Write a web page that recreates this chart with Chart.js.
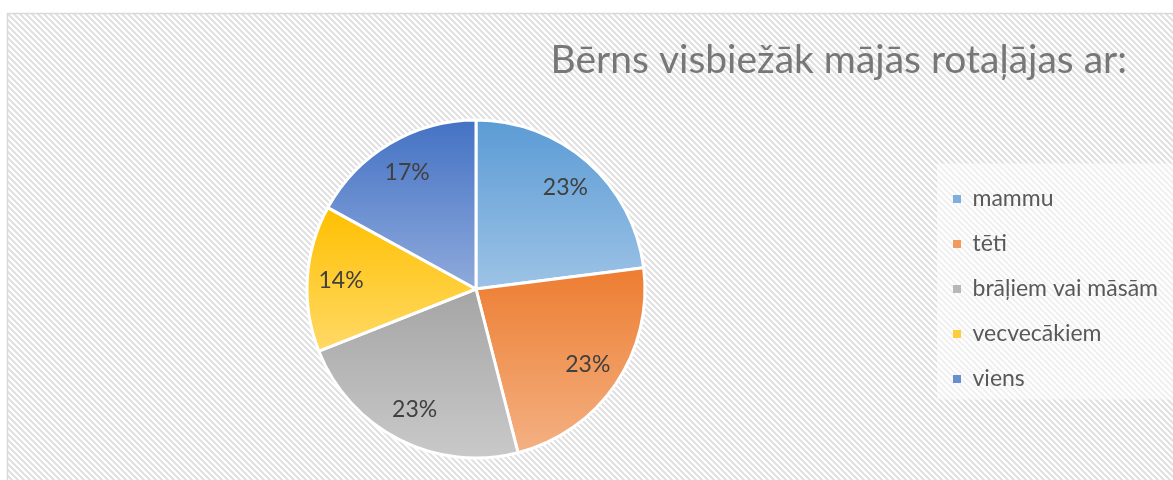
<!DOCTYPE html>
<html><head><meta charset="utf-8">
<script src="https://cdn.jsdelivr.net/npm/chart.js@4.4.1/dist/chart.umd.min.js"></script>
<style>html,body{margin:0;padding:0;background:#fff;} #wrap{width:1173px;height:480px;position:relative;}</style>
</head><body><div id="wrap"><canvas id="c" width="1173" height="480"></canvas></div>
<script>
const titleText = 'Bērns visbiežāk mājās rotaļājas ar:';
const categories = ['mammu', 'tēti', 'brāļiem vai māsām', 'vecvecākiem', 'viens'];
const values = [23, 23, 23, 14, 17];
const topColors = ['#5B9BD5', '#ED7D31', '#A5A5A5', '#FFC000', '#4472C4'];
const bottomColors = ['#9DC3E6', '#F4B183', '#C9C9C9', '#FFD966', '#8FAADC'];
const midColors = ['#7CAFDD', '#F19A5E', '#B7B7B7', '#FFCD3A', '#6A8FD0'];

function makePattern(ctx) {
  const c = document.createElement('canvas');
  c.width = 6; c.height = 6;
  const p = c.getContext('2d');
  p.fillStyle = '#ffffff'; p.fillRect(0, 0, 6, 6);
  p.strokeStyle = '#e0e0e0'; p.lineWidth = 2;
  p.beginPath();
  p.moveTo(-3, -3); p.lineTo(9, 9);
  p.moveTo(-9, -3); p.lineTo(3, 9);
  p.moveTo(3, -3); p.lineTo(15, 9);
  p.stroke();
  return ctx.createPattern(c, 'repeat');
}

const backgroundPlugin = {
  id: 'bgPattern',
  beforeDraw(chart) {
    const ctx = chart.ctx;
    ctx.save();
    ctx.fillStyle = '#ffffff';
    ctx.fillRect(0, 0, chart.width, chart.height);
    ctx.fillStyle = makePattern(ctx);
    ctx.fillRect(7, 13, chart.width - 7, chart.height - 13);
    ctx.strokeStyle = '#d9d9d9'; ctx.lineWidth = 1.5;
    ctx.beginPath();
    ctx.moveTo(7.5, chart.height); ctx.lineTo(7.5, 13.5); ctx.lineTo(chart.width, 13.5);
    ctx.stroke();
    const hb = chart.legend && chart.legend.legendHitBoxes;
    if (hb && hb.length) {
      const top = Math.min(...hb.map(b => b.top)) - 24;
      const bottom = Math.max(...hb.map(b => b.top + b.height)) + 9;
      const left = Math.min(...hb.map(b => b.left)) - 16;
      ctx.fillStyle = 'rgba(255,255,255,0.5)';
      ctx.fillRect(left, top, chart.width - left, bottom - top);
    }
    ctx.fillStyle = '#777777';
    ctx.font = '39px Lato';
    ctx.textAlign = 'right';
    ctx.textBaseline = 'alphabetic';
    ctx.fillText(titleText, 1127, 73);
    ctx.restore();
  }
};

const gradientPlugin = {
  id: 'sliceGradient',
  beforeDatasetsDraw(chart) {
    const ctx = chart.ctx;
    const meta = chart.getDatasetMeta(0);
    meta.data.forEach((arc, i) => {
      const p = arc.getProps(['x', 'y', 'startAngle', 'endAngle', 'outerRadius'], true);
      const ys = [p.y, p.y + p.outerRadius * Math.sin(p.startAngle), p.y + p.outerRadius * Math.sin(p.endAngle)];
      for (let k = -4; k <= 8; k++) {
        const a = k * Math.PI / 2;
        if (a > p.startAngle && a < p.endAngle) ys.push(p.y + p.outerRadius * Math.sin(a));
      }
      const y0 = Math.min(...ys), y1 = Math.max(...ys);
      const g = ctx.createLinearGradient(0, y0, 0, y1);
      g.addColorStop(0, topColors[i]);
      g.addColorStop(1, bottomColors[i]);
      arc.options.backgroundColor = g;
    });
  }
};

const labelPlugin = {
  id: 'sliceLabels',
  afterDatasetsDraw(chart) {
    const ctx = chart.ctx;
    const meta = chart.getDatasetMeta(0);
    ctx.save();
    ctx.fillStyle = '#404040';
    ctx.font = '23px Lato';
    ctx.textAlign = 'center';
    ctx.textBaseline = 'middle';
    meta.data.forEach((arc, i) => {
      const p = arc.getProps(['x', 'y', 'startAngle', 'endAngle', 'outerRadius'], true);
      const mid = (p.startAngle + p.endAngle) / 2;
      const r = p.outerRadius * 0.8;
      ctx.fillText(values[i] + '%', p.x + r * Math.cos(mid), p.y + r * Math.sin(mid));
    });
    ctx.restore();
  }
};

new Chart(document.getElementById('c'), {
  type: 'pie',
  data: {
    labels: categories,
    datasets: [{
      data: values,
      backgroundColor: midColors,
      borderColor: '#ffffff',
      borderWidth: 3
    }]
  },
  options: {
    responsive: false,
    animation: false,
    radius: 169,
    layout: { padding: { left: 21, right: 5, top: 108, bottom: 10 } },
    plugins: {
      title: { display: false },
      tooltip: { enabled: false },
      legend: {
        position: 'right',
        align: 'center',
        labels: {
          color: '#595959',
          font: { family: 'Lato', size: 23 },
          boxWidth: 8,
          boxHeight: 8,
          padding: 22,
          generateLabels(chart) {
            return chart.data.labels.map((l, i) => ({
              text: l, fillStyle: midColors[i], strokeStyle: midColors[i], lineWidth: 0, index: i, hidden: false, fontColor: '#595959'
            }));
          }
        }
      }
    }
  },
  plugins: [backgroundPlugin, gradientPlugin, labelPlugin]
});
</script>
</body></html>
